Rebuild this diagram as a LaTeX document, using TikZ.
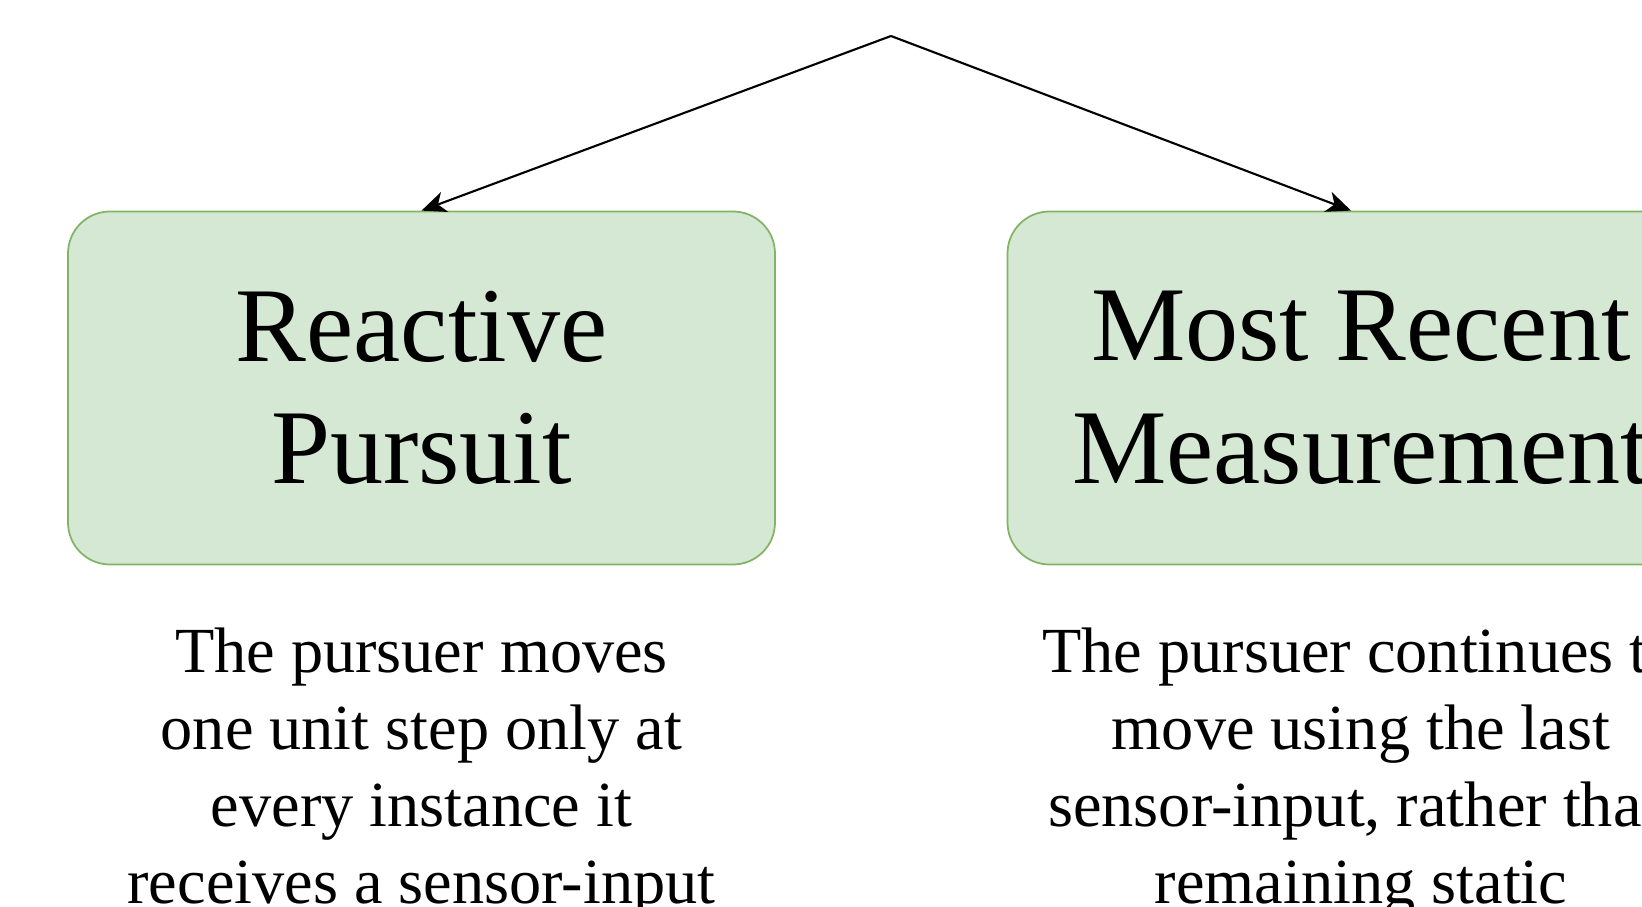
\documentclass[tikz,border=0pt]{standalone}
\usepackage{fontspec}
\setmainfont{Liberation Serif}
\usetikzlibrary{positioning,arrows.meta}
\definecolor{boxfill}{HTML}{D5E8D4}
\definecolor{boxline}{HTML}{82B366}

\begin{document}
\begin{tikzpicture}[
    mode/.style={draw=boxline, fill=boxfill, line width=0.5pt, rounded corners=0.42cm,
        minimum width=7.07cm, minimum height=3.53cm, align=center, inner sep=0pt,
        font=\fontsize{30.2}{34.9}\selectfont},
    desc/.style={align=center, inner sep=0pt, font=\fontsize{18.3}{21.9}\selectfont},
    link/.style={-{Stealth[length=7pt,width=6pt,inset=2pt]}, line width=0.6pt}
]
    % Frame (the right side of the figure is cut off)
    \path[use as bounding box] (0,0) rectangle (16.42,9.06);
    \clip (0,0) rectangle (16.42,9.06);
    % Strategy boxes
    \node[mode] (reactive) at (4.215,5.18) {Reactive\\Pursuit};
    \node[mode] (recent) at (13.61,5.18) {Most Recent\\Measurement};
    % Descriptions
    \node[desc, below=0.62cm of reactive] (reactivedesc) {The pursuer moves\\one unit step only at\\every instance it\\receives a sensor-input};
    \node[desc, below=0.62cm of recent] (recentdesc) {The pursuer continues to\\move using the last\\sensor-input, rather than\\remaining static};
    % Split arrows
    \coordinate (split) at (8.91,8.70);
    \draw[link] (split) -- (reactive.north);
    \draw[link] (split) -- ([xshift=-0.1cm]recent.north);
\end{tikzpicture}
\end{document}
